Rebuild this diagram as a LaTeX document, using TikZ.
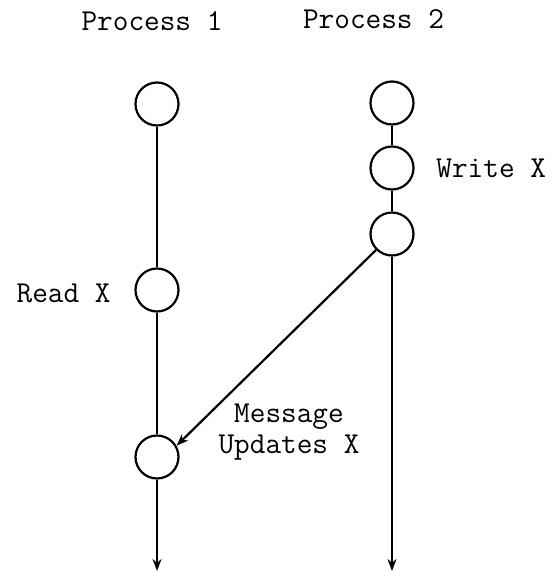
\documentclass[tikz,border=0pt]{standalone}
\usetikzlibrary{arrows.meta}
\begin{document}
\begin{tikzpicture}[x=0.5pt,y=-0.5pt,
  ev/.style={circle,draw,line width=1.1pt,minimum size=21.5pt,inner sep=0pt},
  lbl/.style={font=\ttfamily\fontsize{15.2}{18}\selectfont,inner sep=0pt},
  life/.style={line width=1.35pt},
  arr/.style={line width=1.35pt,-{Stealth[length=6pt,width=4.5pt]}},
  msgarr/.style={line width=1.1pt,-{Stealth[length=6pt,width=4.5pt]}}]
\useasboundingbox (0,0) rectangle (553,573);
% labels
\node[lbl,anchor=base] (p1) at (152,31) {Process 1};
\node[lbl,anchor=base] (p2) at (373.5,28.5) {Process 2};
% events
\node[ev] (c11) at (157,104) {};
\node[ev] (c12) at (157,290) {};
\node[ev] (c13) at (157,457) {};
\node[ev] (c21) at (392,103) {};
\node[ev] (c22) at (392,168) {};
\node[ev] (c23) at (392,234) {};
\coordinate (e1) at (157,571);
\coordinate (e2) at (392,571);
% event labels
\node[lbl,anchor=base west] (wx) at (436,177) {Write X};
\node[lbl,anchor=base east] (rx) at (111,302) {Read X};
\node[lbl,anchor=base] (m1) at (289,422) {Message};
\node[lbl,anchor=base] (m2) at (289,453) {Updates X};
% lifelines
\draw[line width=0.9pt] (c11) -- (c12);
\draw[life] (c12) -- (c13);
\draw[arr] (c13) -- (e1);
\draw[life] (c21) -- (c22);
\draw[life] (c22) -- (c23);
\draw[arr] (c23) -- (e2);
% message
\draw[msgarr] (c23.225) -- (c13.30);
\end{tikzpicture}
\end{document}
